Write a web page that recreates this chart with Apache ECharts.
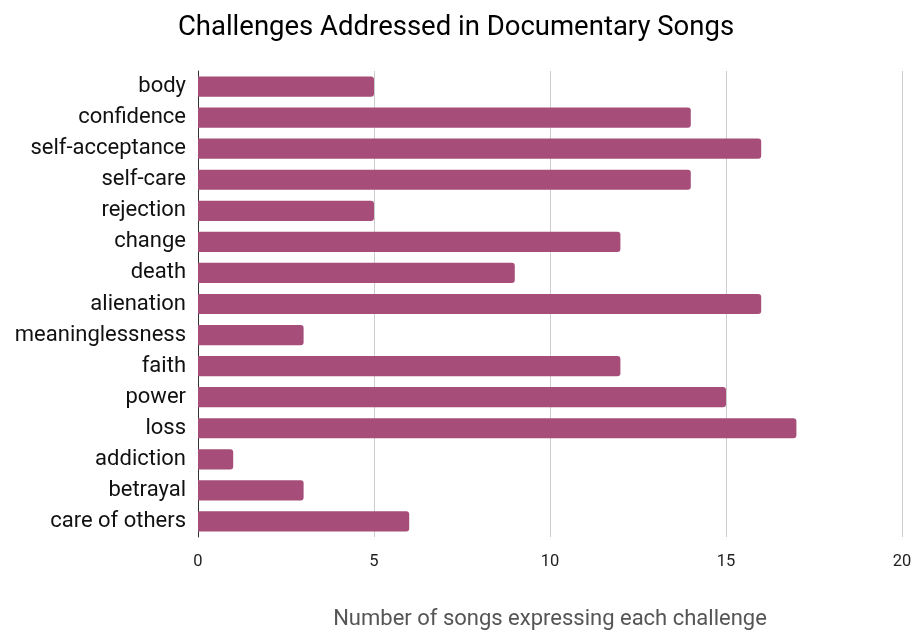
<!DOCTYPE html>
<html>
<head>
<meta charset="utf-8">
<script src="https://cdn.jsdelivr.net/npm/echarts@6/dist/echarts.min.js"></script>
<style>
  html, body { margin: 0; padding: 0; background: #fff; }
  #chart { width: 912px; height: 631px; }
</style>
</head>
<body>
<div id="chart"></div>
<script>
var categories = ['body', 'confidence', 'self-acceptance', 'self-care', 'rejection', 'change', 'death',
    'alienation', 'meaninglessness', 'faith', 'power', 'loss', 'addiction', 'betrayal', 'care of others'];
var songCounts = [5, 14, 16, 14, 5, 12, 9, 16, 3, 12, 15, 17, 1, 3, 6];
var xTicks = [0, 5, 10, 15, 20];

var option = {
    backgroundColor: '#fff',
    textStyle: { fontFamily: 'Roboto' },
    title: {
        text: 'Challenges Addressed in Documentary Songs',
        left: 'center',
        top: 9,
        textStyle: { fontFamily: 'Roboto', fontWeight: 'normal', fontSize: 27.5, color: '#000' }
    },
    grid: { left: 198, right: 10, top: 71, bottom: 94, containLabel: false, outerBoundsMode: 'none' },
    xAxis: {
        type: 'value',
        min: xTicks[0],
        max: xTicks[xTicks.length - 1],
        interval: 5,
        name: 'Number of songs expressing each challenge',
        nameLocation: 'middle',
        nameGap: 71,
        nameTextStyle: { fontFamily: 'Roboto', fontSize: 22, color: '#555' },
        axisLine: { show: false },
        axisTick: { show: false },
        axisLabel: { fontSize: 16.5, color: '#222', margin: 16 },
        splitLine: { lineStyle: { color: '#ccc', width: 1 } }
    },
    yAxis: {
        type: 'category',
        data: categories,
        inverse: true,
        axisLine: { show: true, lineStyle: { color: '#333', width: 1 } },
        axisTick: { show: false },
        axisLabel: { fontSize: 22, color: '#111', margin: 12 }
    },
    series: [{
        type: 'bar',
        data: songCounts,
        barWidth: '65%',
        itemStyle: { color: '#a64d79', borderRadius: [0, 3, 3, 0] }
    }]
};

var chart = echarts.init(document.getElementById('chart'));
chart.setOption(option, true);
</script>
</body>
</html>
